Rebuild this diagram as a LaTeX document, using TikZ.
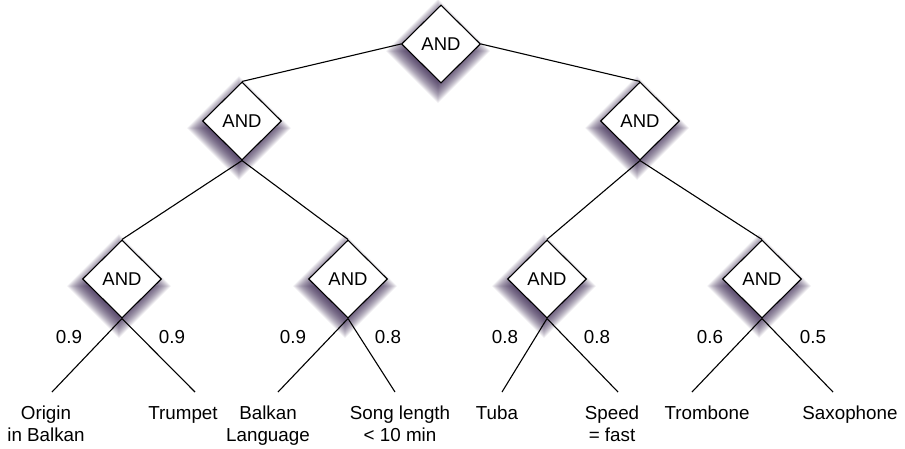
\documentclass[tikz,border=0pt]{standalone}
\usepackage{fontspec}
\setmainfont{Liberation Sans}
\usetikzlibrary{shapes.geometric}
\definecolor{shadowcol}{RGB}{40,20,65}
\begin{document}
\begin{tikzpicture}[x=1pt,y=-1pt,
  gate/.style={diamond,draw,line width=1.1pt,fill=white,minimum width=79pt,minimum height=78pt,inner sep=0pt,font=\fontsize{18.5}{22}\selectfont},
  edge/.style={line width=1.1pt},
  prob/.style={inner sep=0pt,font=\fontsize{18.8}{22}\selectfont},
  leaf/.style={inner sep=0pt,anchor=north,align=center,font=\fontsize{18.8}{22}\selectfont},
  shade/.style={fill=shadowcol,opacity=0.06}]
\useasboundingbox (0,0) rectangle (905,448);
% shadows
\foreach \x/\y in {441/44,242/121,640/121,122/279,348/279,547/279,762/279} {
  \foreach \r in {30,31,...,52} {
    \fill[shade] (\x-3,\y+7-\r) -- (\x-3+\r,\y+7) -- (\x-3,\y+7+\r) -- (\x-3-\r,\y+7) -- cycle;
  }
}
% gates
\node[gate] (top) at (441,44) {AND};
\node[gate] (l2a) at (242,121) {AND};
\node[gate] (l2b) at (640,121) {AND};
\node[gate] (l3a) at (122,279) {AND};
\node[gate] (l3b) at (348,279) {AND};
\node[gate] (l3c) at (547,279) {AND};
\node[gate] (l3d) at (762,279) {AND};
% leaf ends
\coordinate (e1) at (52,392);
\coordinate (e2) at (195,392);
\coordinate (e3) at (278,392);
\coordinate (e4) at (395,392);
\coordinate (e5) at (502,392);
\coordinate (e6) at (618,392);
\coordinate (e7) at (692,392);
\coordinate (e8) at (833,392);
% edges
\draw[edge] (top.west) -- (l2a.north);
\draw[edge] (top.east) -- (l2b.north);
\draw[edge] (l2a.south) -- (l3a.north);
\draw[edge] (l2a.south) -- (l3b.north);
\draw[edge] (l2b.south) -- (l3c.north);
\draw[edge] (l2b.south) -- (l3d.north);
\draw[edge] (l3a.south) -- (e1);
\draw[edge] (l3a.south) -- (e2);
\draw[edge] (l3b.south) -- (e3);
\draw[edge] (l3b.south) -- (e4);
\draw[edge] (l3c.south) -- (e5);
\draw[edge] (l3c.south) -- (e6);
\draw[edge] (l3d.south) -- (e7);
\draw[edge] (l3d.south) -- (e8);
% probabilities
\node[prob] (p1) at (69,337) {0.9};
\node[prob] (p2) at (172,337) {0.9};
\node[prob] (p3) at (293,337) {0.9};
\node[prob] (p4) at (388,337) {0.8};
\node[prob] (p5) at (505,337) {0.8};
\node[prob] (p6) at (597,337) {0.8};
\node[prob] (p7) at (710,337) {0.6};
\node[prob] (p8) at (813,337) {0.5};
% leaves
\node[leaf] (t1) at (46,406) {Origin\\in Balkan};
\node[leaf] (t2) at (183,406) {Trumpet};
\node[leaf] (t3) at (268,406) {Balkan\\Language};
\node[leaf] (t4) at (400,406) {Song length\\< 10 min};
\node[leaf] (t5) at (497,406) {Tuba};
\node[leaf] (t6) at (612,406) {Speed\\= fast};
\node[leaf] (t7) at (707,406) {Trombone};
\node[leaf] (t8) at (850,406) {Saxophone};
\end{tikzpicture}
\end{document}
